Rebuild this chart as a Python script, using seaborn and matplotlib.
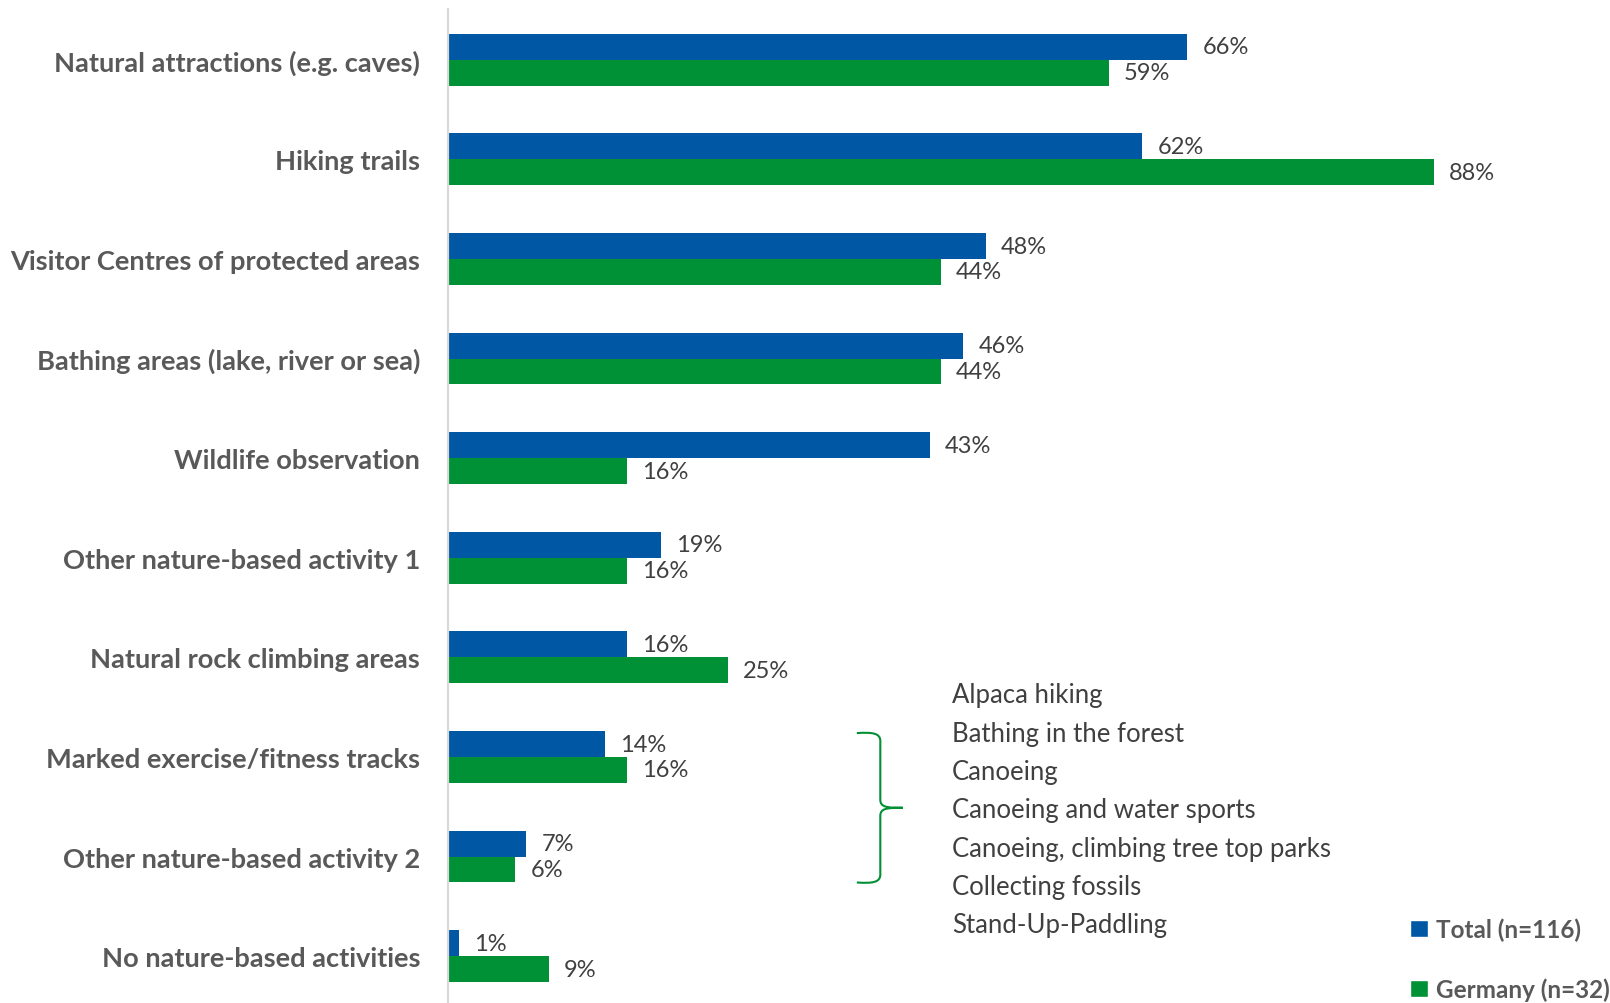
import matplotlib
matplotlib.use("Agg")
import matplotlib.pyplot as plt
from matplotlib.path import Path
from matplotlib.patches import PathPatch, Patch
import seaborn as sns
import pandas as pd

categories = [
    "Natural attractions (e.g. caves)",
    "Hiking trails",
    "Visitor Centres of protected areas",
    "Bathing areas (lake, river or sea)",
    "Wildlife observation",
    "Other nature-based activity 1",
    "Natural rock climbing areas",
    "Marked exercise/fitness tracks",
    "Other nature-based activity 2",
    "No nature-based activities",
]
total = [66, 62, 48, 46, 43, 19, 16, 14, 7, 1]
germany = [59, 88, 44, 44, 16, 16, 25, 16, 6, 9]
series = ["Total (n=116)", "Germany (n=32)"]
other_activities = [
    "Alpaca hiking",
    "Bathing in the forest",
    "Canoeing",
    "Canoeing and water sports",
    "Canoeing, climbing tree top parks",
    "Collecting fossils",
    "Stand-Up-Paddling",
]

BLUE = "#0057A4"
GREEN = "#009035"
LABEL_GREY = "#595959"
TEXT_GREY = "#404040"

df = pd.DataFrame({
    "category": categories * 2,
    "value": total + germany,
    "series": [series[0]] * len(categories) + [series[1]] * len(categories),
})

sns.set_theme(style="white")
plt.rcParams["font.family"] = ["Lato", "DejaVu Sans"]

W, H = 1610, 1004
fig = plt.figure(figsize=(W / 100, H / 100), dpi=100)
ax = fig.add_axes([448 / W, 0, (W - 448) / W, 1 - 10 / H])

sns.barplot(
    data=df, x="value", y="category", hue="series", order=categories,
    hue_order=series, palette=[BLUE, GREEN], orient="h", width=0.52,
    saturation=1, edgecolor="none", legend=False, ax=ax,
)

ax.set_xlim(0, (W - 448) / 11.2)
ax.set_ylim(9.47, -0.51)
ax.set_xlabel("")
ax.set_ylabel("")
ax.set_xticks([])

for lbl in ax.get_yticklabels():
    lbl.set_fontweight("bold")
    lbl.set_color(LABEL_GREY)
    lbl.set_fontsize(19.6)
ax.tick_params(axis="y", length=0, pad=20)

for side in ["top", "right", "bottom"]:
    ax.spines[side].set_visible(False)
ax.spines["left"].set_color("#D9D9D9")
ax.spines["left"].set_linewidth(1.6)

for cont, vals in zip(ax.containers, [total, germany]):
    ax.bar_label(cont, labels=[f"{v}%" for v in vals], padding=11,
                 fontsize=17, color=TEXT_GREY)

# list of the "other" activities
y0, dy = 6.375, 0.385
for i, name in enumerate(other_activities):
    ax.text(45.0, y0 + i * dy, name, fontsize=18.5, color=TEXT_GREY,
            va="center", ha="left")

# curly brace grouping the two "other" categories
bx0, bxm, bx1 = 36.5, 38.6, 40.6
yt, yb = 6.76, 8.26
ym = (yt + yb) / 2
c = 0.08
verts = [
    (bx0, yt), (bx0 + 1.4, yt - 0.01), (bxm, yt), (bxm, yt + c),
    (bxm, ym - c),
    (bxm, ym - 0.005), (bxm + 0.6, ym), (bx1, ym),
    (bxm + 0.6, ym), (bxm, ym + 0.005), (bxm, ym + c),
    (bxm, yb - c),
    (bxm, yb), (bx0 + 1.4, yb + 0.01), (bx0, yb),
]
codes = [
    Path.MOVETO, Path.CURVE4, Path.CURVE4, Path.CURVE4,
    Path.LINETO,
    Path.CURVE4, Path.CURVE4, Path.CURVE4,
    Path.CURVE4, Path.CURVE4, Path.CURVE4,
    Path.LINETO,
    Path.CURVE4, Path.CURVE4, Path.CURVE4,
]
ax.add_patch(PathPatch(Path(verts, codes), fill=False, edgecolor=GREEN,
                       linewidth=1.5, clip_on=False))

handles = [Patch(facecolor=BLUE, label=series[0]),
           Patch(facecolor=GREEN, label=series[1])]
leg = fig.legend(handles=handles, loc="lower right",
                 bbox_to_anchor=(1.0, 0.002), frameon=False,
                 prop={"weight": "bold", "size": 17.5},
                 handlelength=0.75, handleheight=0.75, handletextpad=0.35,
                 labelspacing=1.5, borderaxespad=0.0, borderpad=0.0)
for t in leg.get_texts():
    t.set_color(LABEL_GREY)

fig.savefig("out.png", dpi=100)
